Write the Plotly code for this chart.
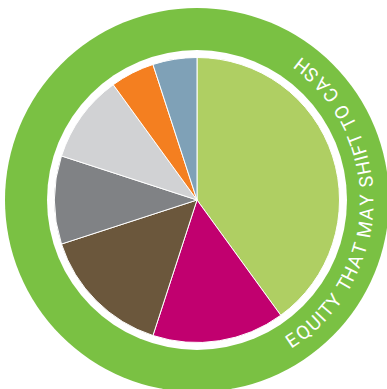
import math
import plotly.graph_objects as go

# Portfolio split, drawn clockwise from 12 o'clock
segments = ["Segment 1", "Segment 2", "Segment 3", "Segment 4",
            "Segment 5", "Segment 6", "Segment 7"]
shares = [40, 15, 15, 10, 10, 5, 5]
slice_colors = ["#AFCF63", "#C1006F", "#6B573C", "#808285",
                "#D1D2D4", "#F47F20", "#7FA1B7"]

ring_label = "EQUITY THAT MAY SHIFT TO CASH"

W, H = 387, 389
CX, CY = 197, 200          # centre of the badge, in px from top-left
R_PIE = 142.5
R_WHITE = 150
R_RING = 192
R_TEXT = 170
RING_GREEN = "#7AC143"

fig = go.Figure()

fig.add_trace(go.Pie(
    labels=segments,
    values=shares,
    sort=False,
    direction="clockwise",
    rotation=0,
    marker=dict(colors=slice_colors, line=dict(color="white", width=1)),
    textinfo="none",
    hoverinfo="label+percent",
    showlegend=False,
    domain=dict(
        x=[(CX - R_PIE) / W, (CX + R_PIE) / W],
        y=[(H - CY - R_PIE) / H, (H - CY + R_PIE) / H],
    ),
))

# green outer band and white gap around the pie
fig.add_shape(type="circle", xref="x", yref="y", layer="below",
              x0=CX - R_RING, x1=CX + R_RING, y0=CY - R_RING, y1=CY + R_RING,
              fillcolor=RING_GREEN, line=dict(width=0))
fig.add_shape(type="circle", xref="x", yref="y", layer="below",
              x0=CX - R_WHITE, x1=CX + R_WHITE, y0=CY - R_WHITE, y1=CY + R_WHITE,
              fillcolor="white", line=dict(width=0))

# curved caption: one annotation per glyph, running counter-clockwise
widths = {"E": 500, "Q": 556, "U": 556, "I": 222, "T": 444, "Y": 500,
          " ": 222, "H": 556, "A": 556, "M": 667, "S": 500, "F": 444,
          "O": 556, "C": 556}
start_deg, end_deg = 146.0, 38.0   # clockwise from 12 o'clock
w = [widths.get(ch, 500) for ch in ring_label]
steps = [(w[i] + w[i + 1]) / 2 for i in range(len(w) - 1)]
total = sum(steps)
pos = [0.0]
for s in steps:
    pos.append(pos[-1] + s)
for ch, p in zip(ring_label, pos):
    if ch == " ":
        continue
    theta = start_deg - (start_deg - end_deg) * p / total
    t = math.radians(theta)
    fig.add_annotation(
        x=CX + R_TEXT * math.sin(t),
        y=CY - R_TEXT * math.cos(t),
        xref="x", yref="y",
        text=ch, showarrow=False,
        textangle=theta - 180,
        xanchor="center", yanchor="middle",
        font=dict(family="Roboto, sans-serif", size=19, color="white"),
    )

fig.update_layout(
    width=W, height=H, autosize=False,
    margin=dict(l=0, r=0, t=0, b=0),
    paper_bgcolor="white", plot_bgcolor="white",
    xaxis=dict(range=[0, W], visible=False, fixedrange=True),
    yaxis=dict(range=[H, 0], visible=False, fixedrange=True),
)

fig.write_html("out.html")
